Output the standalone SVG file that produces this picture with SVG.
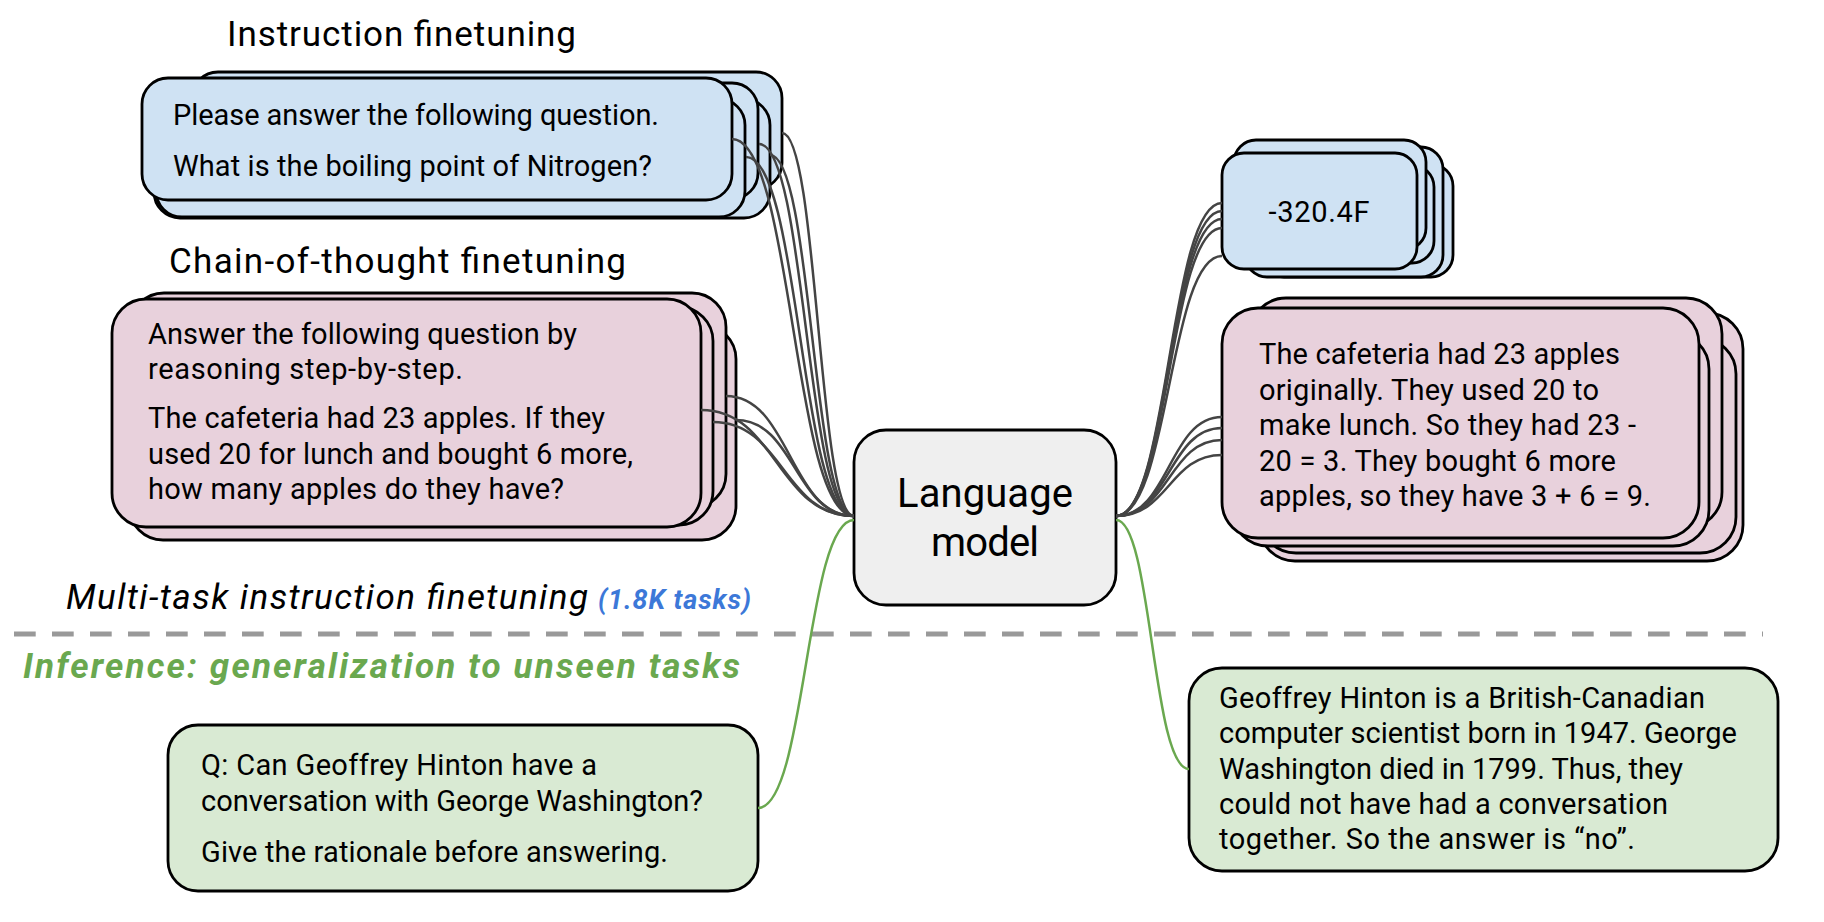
<svg xmlns="http://www.w3.org/2000/svg" width="1824" height="922" viewBox="0 0 1824 922">
<style>
.bx{stroke:#000;stroke-width:2.8}
.blue{fill:#cfe2f3}
.pink{fill:#e8d1dc}
.green{fill:#d9ead3}
.gray{fill:#efefef}
.t{font-family:Roboto,"Liberation Sans",sans-serif;font-size:29px;fill:#000}
.title{font-family:Roboto,"Liberation Sans",sans-serif;font-size:35px;fill:#000}
.lm{font-family:Roboto,"Liberation Sans",sans-serif;font-size:40px;fill:#000;text-anchor:middle}
.c{fill:none;stroke:#444;stroke-width:2.5}
.g{fill:none;stroke:#6aa84f;stroke-width:2.5}
</style>
<rect width="1824" height="922" fill="#fff"/>

<text class="title" x="227" y="46" textLength="349">Instruction finetuning</text>
<text class="title" x="169" y="273" textLength="457">Chain-of-thought finetuning</text>
<text class="title" x="66" y="609" font-style="italic" textLength="522">Multi-task instruction finetuning</text>
<text x="598" y="609" font-family="Roboto,'Liberation Sans',sans-serif" font-size="27" font-weight="bold" font-style="italic" fill="#3c78d8" textLength="153">(1.8K tasks)</text>
<line x1="14" y1="634" x2="1763" y2="634" stroke="#999" stroke-width="5" stroke-dasharray="21.7 16.3"/>
<text x="23" y="678" font-family="Roboto,'Liberation Sans',sans-serif" font-size="35" font-weight="bold" font-style="italic" fill="#6aa84f" textLength="717">Inference: generalization to unseen tasks</text>

<g id="instruction-input">
<rect class="bx blue" x="192" y="72" width="590" height="117" rx="26"/>
<rect class="bx blue" x="154" y="99" width="616" height="119" rx="26"/>
<rect class="bx blue" x="200" y="83" width="558" height="116" rx="26"/>
<rect class="bx blue" x="156" y="99" width="589" height="118" rx="26"/>
<rect class="bx blue" x="142" y="78" width="590" height="122" rx="26"/>
<text class="t" x="173" y="125" textLength="486">Please answer the following question.</text>
<text class="t" x="173" y="176" textLength="479">What is the boiling point of Nitrogen?</text>
</g>

<g id="cot-input">
<rect class="bx pink" x="129" y="325" width="607" height="215" rx="34"/>
<rect class="bx pink" x="130" y="293" width="596" height="215" rx="34"/>
<rect class="bx pink" x="120" y="307" width="593" height="218" rx="34"/>
<rect class="bx pink" x="112" y="299" width="589" height="228" rx="34"/>
<text class="t" x="148" y="344" textLength="429">Answer the following question by</text>
<text class="t" x="148" y="379" textLength="315">reasoning step-by-step.</text>
<text class="t" x="148" y="428" textLength="457">The cafeteria had 23 apples. If they</text>
<text class="t" x="148" y="464" textLength="485">used 20 for lunch and bought 6 more,</text>
<text class="t" x="148" y="499" textLength="416">how many apples do they have?</text>
</g>

<g id="language-model">
<rect class="bx gray" x="854" y="430" width="262" height="175" rx="32"/>
<text class="lm" x="985" y="507" textLength="176">Language</text>
<text class="lm" x="985" y="556" textLength="108">model</text>
</g>

<g id="instruction-output">
<rect class="bx blue" x="1262" y="164" width="191" height="113" rx="22"/>
<rect class="bx blue" x="1245" y="147" width="198" height="130" rx="22"/>
<rect class="bx blue" x="1240" y="165" width="194" height="98" rx="22"/>
<rect class="bx blue" x="1234" y="140" width="192" height="110" rx="22"/>
<rect class="bx blue" x="1222" y="153" width="195" height="116" rx="22"/>
<text class="t" x="1319" y="222" text-anchor="middle" textLength="101">-320.4F</text>
</g>

<g id="cot-output">
<rect class="bx pink" x="1259" y="313" width="484" height="248" rx="36"/>
<rect class="bx pink" x="1260" y="338" width="476" height="215" rx="36"/>
<rect class="bx pink" x="1250" y="298" width="472" height="230" rx="36"/>
<rect class="bx pink" x="1232" y="333" width="477" height="213" rx="36"/>
<rect class="bx pink" x="1222" y="308" width="477" height="230" rx="36"/>
<text class="t" x="1259" y="364" textLength="361">The cafeteria had 23 apples</text>
<text class="t" x="1259" y="400" textLength="340">originally. They used 20 to</text>
<text class="t" x="1259" y="435" textLength="377">make lunch. So they had 23 -</text>
<text class="t" x="1259" y="471" textLength="357">20 = 3. They bought 6 more</text>
<text class="t" x="1259" y="506" textLength="392">apples, so they have 3 + 6 = 9.</text>
</g>

<g id="inference-input">
<rect class="bx green" x="168" y="725" width="590" height="166" rx="30"/>
<text class="t" x="201" y="775" textLength="396">Q: Can Geoffrey Hinton have a</text>
<text class="t" x="201" y="811" textLength="502">conversation with George Washington?</text>
<text class="t" x="201" y="862" textLength="467">Give the rationale before answering.</text>
</g>

<g id="inference-output">
<rect class="bx green" x="1189" y="668" width="589" height="203" rx="33"/>
<text class="t" x="1219" y="708" textLength="486">Geoffrey Hinton is a British-Canadian</text>
<text class="t" x="1219" y="743" textLength="518">computer scientist born in 1947. George</text>
<text class="t" x="1219" y="779" textLength="464">Washington died in 1799. Thus, they</text>
<text class="t" x="1219" y="814" textLength="449">could not have had a conversation</text>
<text class="t" x="1219" y="849" textLength="416">together. So the answer is “no”.</text>
</g>

<g id="connectors">
<path class="c" d="M732,139 C793,139 793,516 854,516"/>
<path class="c" d="M746,157 C800,157 800,516 854,516"/>
<path class="c" d="M759,144 C806,144 806,516 854,516"/>
<path class="c" d="M770,155 C812,155 812,516 854,516"/>
<path class="c" d="M782,133 C818,133 818,516 854,516"/>
<path class="c" d="M726,396 C790,396 790,516 854,516"/>
<path class="c" d="M701,410 C777,410 777,516 854,516"/>
<path class="c" d="M713,422 C783,422 783,516 854,516"/>
<path class="c" d="M736,420 C795,420 795,516 854,516"/>
<path class="c" d="M1116,516 C1169,516 1169,203 1222,203"/>
<path class="c" d="M1116,516 C1169,516 1169,211 1222,211"/>
<path class="c" d="M1116,516 C1169,516 1169,219 1222,219"/>
<path class="c" d="M1116,516 C1169,516 1169,228 1222,228"/>
<path class="c" d="M1116,516 C1169,516 1169,256 1222,256"/>
<path class="c" d="M1116,516 C1169,516 1169,417 1222,417"/>
<path class="c" d="M1116,516 C1169,516 1169,428 1222,428"/>
<path class="c" d="M1116,516 C1169,516 1169,440 1222,440"/>
<path class="c" d="M1116,516 C1169,516 1169,455 1222,455"/>
<path class="g" d="M758,808 C806,808 806,520 854,520"/>
<path class="g" d="M1116,520 C1152,520 1152,769 1189,769"/>
</g>
</svg>
